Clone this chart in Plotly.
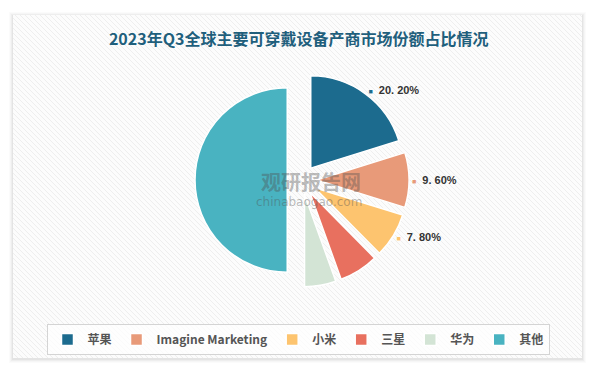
import plotly.graph_objects as go

# ---- data ----
companies = ["苹果", "Imagine Marketing", "小米", "三星", "华为", "其他"]
shares = [20.2, 9.6, 7.8, 6.9, 5.5, 50.0]
labelled = [True, True, True, False, False, False]
colors = ["#1c6b8e", "#e89a79", "#fdc46f", "#e8705f", "#d3e4d5", "#49b3c1"]
title_text = "2023年Q3全球主要可穿戴设备产商市场份额占比情况"

W, H = 601, 376
ML, MR, MT, MB = 3, 0, 73, 89
PW, PH = W - ML - MR, H - MT - MB


def px2paper(px, py):
    return (px - ML) / PW, (H - MB - py) / PH


texts = []
for v, c, show in zip(shares, colors, labelled):
    if show:
        s = f"{v:.2f}".replace(".", ". ") + "%"
        texts.append(f"<span style='color:{c};font-size:7px'>■</span>  {s}")
    else:
        texts.append("")

fig = go.Figure()
fig.add_trace(go.Pie(
    labels=companies,
    values=shares,
    text=texts,
    textinfo="text",
    textposition=["outside" if s else "none" for s in labelled],
    sort=False,
    direction="clockwise",
    rotation=0,
    pull=0.16,
    automargin=False,
    marker=dict(colors=colors, line=dict(color="white", width=1.5)),
    outsidetextfont=dict(family="Liberation Sans", size=11, color="#333333", weight="bold"),
    hoverinfo="label+percent",
))

# ---- card background, shadow and hatch ----
shapes = []
cx0, cy0, cx1, cy1 = 13, 15, 582, 358
for i, a in enumerate([0.015, 0.02, 0.03, 0.04]):
    g = 4 - i
    x0, y0 = px2paper(cx0 - g, cy0 - g + 1)
    x1, y1 = px2paper(cx1 + g, cy1 + g + 1)
    shapes.append(dict(type="rect", xref="paper", yref="paper", x0=x0, y0=y0, x1=x1, y1=y1,
                       fillcolor=f"rgba(0,0,0,{a})", line=dict(width=0), layer="below"))
x0, y0 = px2paper(cx0, cy0)
x1, y1 = px2paper(cx1, cy1)
shapes.append(dict(type="rect", xref="paper", yref="paper", x0=x0, y0=y0, x1=x1, y1=y1,
                   fillcolor="#fcfcfc", line=dict(width=0), layer="below"))
path = []
step = 5
c = (cx0 - cy1)
while c < cx1 - cy0:
    ya = max(cy0, cx0 - c)
    yb = min(cy1, cx1 - c)
    if yb > ya:
        pa = px2paper(ya + c, ya)
        pb = px2paper(yb + c, yb)
        path.append(f"M{pa[0]:.5f},{pa[1]:.5f}L{pb[0]:.5f},{pb[1]:.5f}")
    c += step
shapes.append(dict(type="path", xref="paper", yref="paper", path="".join(path),
                   line=dict(color="#eeeeee", width=1), layer="below"))

# ---- watermark ----
annotations = []
wx, wy = px2paper(311, 181)
annotations.append(dict(text="<b>观研报告网</b>", x=wx, y=wy, xref="paper", yref="paper",
                        showarrow=False, font=dict(family="Noto Sans CJK SC", size=20, color="rgba(80,80,80,0.4)")))
wx, wy = px2paper(309, 202)
annotations.append(dict(text="chinabaogao.com", x=wx, y=wy, xref="paper", yref="paper",
                        showarrow=False, font=dict(family="DejaVu Sans", size=12, color="rgba(80,80,80,0.4)")))

lx, ly = px2paper(298, 324)
fig.update_layout(
    width=W, height=H,
    margin=dict(l=ML, r=MR, t=MT, b=MB, autoexpand=False),
    paper_bgcolor="white",
    title=dict(text=f"<b>{title_text}</b>", x=0.497, xanchor="center", y=1 - 39 / H, yanchor="middle",
               yref="container", font=dict(family="Noto Sans CJK SC", size=16, color="#1f5f7c")),
    legend=dict(orientation="h", x=lx, xanchor="center", y=ly, yanchor="top",
                bordercolor="#d4d4d4", borderwidth=1, bgcolor="rgba(255,255,255,0.7)",
                itemwidth=30, font=dict(family="Noto Sans CJK SC", size=12, color="#555555", weight="bold")),
    shapes=shapes,
    annotations=annotations,
    showlegend=True,
)

fig.write_html("out.html")
